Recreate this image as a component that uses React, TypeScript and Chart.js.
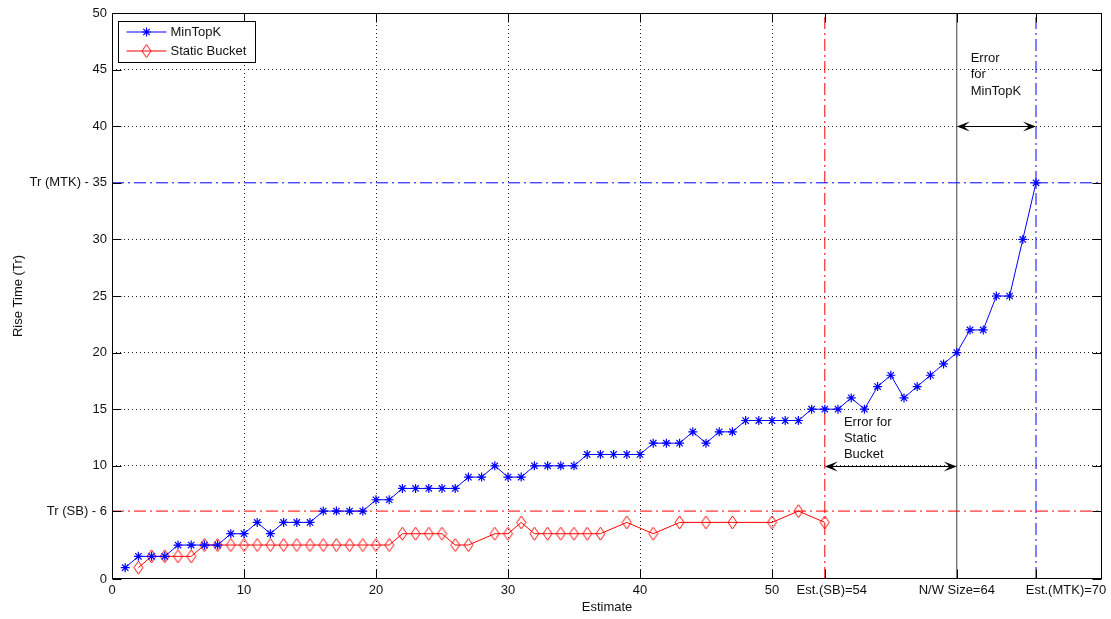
import React, { useEffect, useRef } from "react";
import { Chart, registerables } from "chart.js";

Chart.register(...registerables);

// MinTopK: rise time for every estimate 1..70
const mtkEstimate = [
  1, 2, 3, 4, 5, 6, 7, 8, 9, 10, 11, 12, 13, 14, 15, 16, 17, 18, 19, 20,
  21, 22, 23, 24, 25, 26, 27, 28, 29, 30, 31, 32, 33, 34, 35, 36, 37, 38, 39, 40,
  41, 42, 43, 44, 45, 46, 47, 48, 49, 50, 51, 52, 53, 54, 55, 56, 57, 58, 59, 60,
  61, 62, 63, 64, 65, 66, 67, 68, 69, 70,
];
const mtkRiseTime = [
  1, 2, 2, 2, 3, 3, 3, 3, 4, 4, 5, 4, 5, 5, 5, 6, 6, 6, 6, 7,
  7, 8, 8, 8, 8, 8, 9, 9, 10, 9, 9, 10, 10, 10, 10, 11, 11, 11, 11, 11,
  12, 12, 12, 13, 12, 13, 13, 14, 14, 14, 14, 14, 15, 15, 15, 16, 15, 17, 18, 16,
  17, 18, 19, 20, 22, 22, 25, 25, 30, 35,
];

// Static Bucket
const sbEstimate = [
  2, 3, 4, 5, 6, 7, 8, 9, 10, 11, 12, 13, 14, 15, 16, 17, 18, 19, 20, 21,
  22, 23, 24, 25, 26, 27, 29, 30, 31, 32, 33, 34, 35, 36, 37, 39, 41, 43, 45, 47,
  50, 52, 54,
];
const sbRiseTime = [
  1, 2, 2, 2, 2, 3, 3, 3, 3, 3, 3, 3, 3, 3, 3, 3, 3, 3, 3, 3,
  4, 4, 4, 4, 3, 3, 4, 4, 5, 4, 4, 4, 4, 4, 4, 5, 4, 5, 5, 5,
  5, 6, 5,
];

// Reference values
const estimateSB = 54;
const networkSize = 64;
const estimateMTK = 70;
const riseTimeSB = 6;
const riseTimeMTK = 35;

// Axis ticks
const xTickValues = [0, 10, 20, 30, 40, 50, 54, 64, 70];
const xTickLabels = ["0", "10", "20", "30", "40", "50", "Est.(SB)=54", "N/W Size=64", "Est.(MTK)=70"];
const yTickValues = [0, 6, 10, 15, 20, 25, 30, 35, 40, 45, 50];
const yTickLabels = ["0", "Tr (SB) - 6", "10", "15", "20", "25", "30", "Tr (MTK) - 35", "40", "45", "50"];

const seriesNames = ["MinTopK", "Static Bucket"];
const sbNote = ["Error for", "Static", "Bucket"];
const mtkNote = ["Error", "for", "MinTopK"];

// Styling
const FONT_FAMILY = '"Liberation Sans", Arial, Helvetica, sans-serif';
const FONT_SIZE = 13;
const FONT = `${FONT_SIZE}px ${FONT_FAMILY}`;
const TEXT_COLOR = "#111";
const BLUE = "#0000ff";
const RED = "#ff0000";
const DASH_DOT = [12, 4, 2, 4];
const TICK_LEN = 9;
const xLabelShift = [0, 0, 0, 0, 0, 0, 7, 0, 30];
// note anchors in data units (left edge, first line centre)
const sbNoteAt = { x: 55.45, y: 13.8 };
const mtkNoteAt = { x: 65.05, y: 46.0 };

function makeDiamond(color: string): HTMLCanvasElement {
  const c = document.createElement("canvas");
  c.width = 11;
  c.height = 15;
  const g = c.getContext("2d")!;
  g.strokeStyle = color;
  g.lineWidth = 1;
  g.beginPath();
  g.moveTo(5.5, 1);
  g.lineTo(10, 7.5);
  g.lineTo(5.5, 14);
  g.lineTo(1, 7.5);
  g.closePath();
  g.stroke();
  return c;
}

function drawStar(ctx: CanvasRenderingContext2D, cx: number, cy: number, r: number, color: string) {
  ctx.save();
  ctx.strokeStyle = color;
  ctx.lineWidth = 1.2;
  ctx.beginPath();
  ctx.moveTo(cx - r, cy);
  ctx.lineTo(cx + r, cy);
  ctx.moveTo(cx, cy - r);
  ctx.lineTo(cx, cy + r);
  const d = r * Math.SQRT1_2;
  ctx.moveTo(cx - d, cy - d);
  ctx.lineTo(cx + d, cy + d);
  ctx.moveTo(cx - d, cy + d);
  ctx.lineTo(cx + d, cy - d);
  ctx.stroke();
  ctx.restore();
}

function arrowHead(ctx: CanvasRenderingContext2D, tipX: number, y: number, dir: number) {
  const L = 13;
  const W = 5;
  ctx.beginPath();
  ctx.moveTo(tipX, y);
  ctx.lineTo(tipX + dir * L, y - W);
  ctx.lineTo(tipX + dir * L * 0.55, y);
  ctx.lineTo(tipX + dir * L, y + W);
  ctx.closePath();
  ctx.fill();
}

function doubleArrow(ctx: CanvasRenderingContext2D, x1: number, x2: number, y: number) {
  ctx.save();
  ctx.strokeStyle = "#000";
  ctx.fillStyle = "#000";
  ctx.lineWidth = 1;
  ctx.beginPath();
  ctx.moveTo(x1 + 4, y);
  ctx.lineTo(x2 - 4, y);
  ctx.stroke();
  arrowHead(ctx, x1, y, 1);
  arrowHead(ctx, x2, y, -1);
  ctx.restore();
}

export default function App() {
  const canvasRef = useRef<HTMLCanvasElement | null>(null);

  useEffect(() => {
    const canvas = canvasRef.current;
    if (!canvas) return;
    const diamond = makeDiamond(RED);

    const overlay = {
      id: "overlay",
      afterDatasetsDraw(chart: any) {
        const { ctx, chartArea: a } = chart;
        const xs = chart.scales.x;
        const ys = chart.scales.y;
        const L = Math.round(a.left) + 0.5;
        const R = Math.round(a.right) - 0.5;
        const T = Math.round(a.top) + 0.5;
        const B = Math.round(a.bottom) - 0.5;

        ctx.save();

        // error arrows
        const yArrowSB = Math.round(ys.getPixelForValue(10)) + 0.5;
        const yArrowMTK = Math.round(ys.getPixelForValue(40)) + 0.5;
        doubleArrow(ctx, xs.getPixelForValue(estimateSB), xs.getPixelForValue(networkSize), yArrowSB);
        doubleArrow(ctx, xs.getPixelForValue(networkSize), xs.getPixelForValue(estimateMTK), yArrowMTK);

        // notes
        ctx.fillStyle = TEXT_COLOR;
        ctx.font = FONT;
        ctx.textAlign = "left";
        ctx.textBaseline = "middle";
        sbNote.forEach((t, i) => {
          ctx.fillText(t, xs.getPixelForValue(sbNoteAt.x), ys.getPixelForValue(sbNoteAt.y) + i * 15.7);
        });
        mtkNote.forEach((t, i) => {
          ctx.fillText(t, xs.getPixelForValue(mtkNoteAt.x), ys.getPixelForValue(mtkNoteAt.y) + i * 16.5);
        });

        // frame
        ctx.strokeStyle = "#000";
        ctx.lineWidth = 1;
        ctx.strokeRect(L, T, R - L, B - T);

        // inward tick marks on all four sides
        ctx.beginPath();
        xTickValues.forEach((v) => {
          const px = Math.round(xs.getPixelForValue(v)) + 0.5;
          ctx.moveTo(px, B);
          ctx.lineTo(px, B - TICK_LEN);
          ctx.moveTo(px, T);
          ctx.lineTo(px, T + TICK_LEN);
        });
        yTickValues.forEach((v) => {
          const py = Math.round(ys.getPixelForValue(v)) + 0.5;
          ctx.moveTo(L, py);
          ctx.lineTo(L + TICK_LEN, py);
          ctx.moveTo(R, py);
          ctx.lineTo(R - TICK_LEN, py);
        });
        ctx.stroke();

        // x tick labels
        ctx.fillStyle = TEXT_COLOR;
        ctx.textAlign = "center";
        ctx.textBaseline = "middle";
        xTickValues.forEach((v, i) => {
          ctx.fillText(xTickLabels[i], xs.getPixelForValue(v) + xLabelShift[i], a.bottom + 11);
        });

        // axis titles
        ctx.fillText("Estimate", (a.left + a.right) / 2, a.bottom + 28);
        ctx.save();
        ctx.translate(18, (a.top + a.bottom) / 2);
        ctx.rotate(-Math.PI / 2);
        ctx.fillText("Rise Time (Tr)", 0, 0);
        ctx.restore();

        // legend
        const lx = Math.round(a.left) + 6.5;
        const ly = Math.round(a.top) + 8.5;
        const lw = 137;
        const lh = 41;
        ctx.fillStyle = "#fff";
        ctx.fillRect(lx, ly, lw, lh);
        ctx.strokeStyle = "#000";
        ctx.strokeRect(lx, ly, lw, lh);
        const rows = [ly + 10.5, ly + 29.5];
        const colors = [BLUE, RED];
        rows.forEach((ry, i) => {
          ctx.strokeStyle = colors[i];
          ctx.lineWidth = 1;
          ctx.beginPath();
          ctx.moveTo(lx + 8, ry);
          ctx.lineTo(lx + 48, ry);
          ctx.stroke();
          if (i === 0) drawStar(ctx, lx + 28, ry, 4.5, BLUE);
          else ctx.drawImage(diamond, lx + 28 - 5.5, ry - 7.5);
          ctx.fillStyle = TEXT_COLOR;
          ctx.textAlign = "left";
          ctx.fillText(seriesNames[i], lx + 52, ry);
        });

        ctx.restore();
      },
    };

    const hiddenX = new Set([0, estimateSB, networkSize, estimateMTK]);
    const hiddenY = new Set([0, riseTimeSB, riseTimeMTK, 50]);
    const refLine = (pts: { x: number; y: number }[], color: string, dash: number[]) => ({
      data: pts,
      borderColor: color,
      borderWidth: 1,
      borderDash: dash,
      pointRadius: 0,
      fill: false,
      tension: 0,
    });

    const chart = new Chart(canvas, {
      type: "line",
      data: {
        datasets: [
          {
            label: seriesNames[0],
            data: mtkEstimate.map((x, i) => ({ x, y: mtkRiseTime[i] })),
            borderColor: BLUE,
            borderWidth: 1,
            pointStyle: "star",
            pointRadius: 4.5,
            pointBorderColor: BLUE,
            pointBorderWidth: 1.2,
            pointBackgroundColor: BLUE,
            tension: 0,
            fill: false,
          },
          {
            label: seriesNames[1],
            data: sbEstimate.map((x, i) => ({ x, y: sbRiseTime[i] })),
            borderColor: RED,
            borderWidth: 1,
            pointStyle: diamond as any,
            pointRadius: 5,
            tension: 0,
            fill: false,
          },
          refLine([{ x: 0, y: riseTimeMTK }, { x: 75, y: riseTimeMTK }], BLUE, DASH_DOT),
          refLine([{ x: 0, y: riseTimeSB }, { x: 75, y: riseTimeSB }], RED, DASH_DOT),
          refLine([{ x: estimateSB, y: 0 }, { x: estimateSB, y: 50 }], RED, DASH_DOT),
          refLine([{ x: networkSize, y: 0 }, { x: networkSize, y: 50 }], "#404040", []),
          refLine([{ x: estimateMTK, y: 0 }, { x: estimateMTK, y: 50 }], BLUE, DASH_DOT),
        ],
      },
      options: {
        responsive: false,
        animation: false,
        devicePixelRatio: 1,
        layout: { padding: { left: 0, top: 13, right: 9, bottom: 0 } },
        plugins: {
          legend: { display: false },
          tooltip: { enabled: false },
        },
        scales: {
          x: {
            type: "linear",
            min: 0,
            max: 75,
            afterBuildTicks: (scale: any) => {
              scale.ticks = xTickValues.map((value) => ({ value }));
            },
            afterFit: (scale: any) => {
              scale.height = 40;
            },
            ticks: { display: false, autoSkip: false, maxRotation: 0 },
            grid: {
              drawTicks: false,
              lineWidth: 1,
              color: (c: any) => (hiddenX.has(c.tick?.value) ? "rgba(0,0,0,0)" : "#222"),
            },
            border: { display: false, dash: [1, 3] },
          },
          y: {
            type: "linear",
            min: 0,
            max: 50,
            afterBuildTicks: (scale: any) => {
              scale.ticks = yTickValues.map((value) => ({ value }));
            },
            afterFit: (scale: any) => {
              scale.width = 112;
            },
            ticks: {
              autoSkip: false,
              padding: 5,
              color: TEXT_COLOR,
              font: { family: FONT_FAMILY, size: FONT_SIZE },
              callback: (_v: any, i: number) => yTickLabels[i],
            },
            grid: {
              drawTicks: false,
              lineWidth: 1,
              color: (c: any) => (hiddenY.has(c.tick?.value) ? "rgba(0,0,0,0)" : "#222"),
            },
            border: { display: false, dash: [1, 3] },
          },
        },
      },
      plugins: [overlay],
    } as any);

    return () => chart.destroy();
  }, []);

  return (
    <div style={{ position: "fixed", left: 0, top: 0, width: 1111, height: 619, background: "#fff" }}>
      <canvas ref={canvasRef} width={1111} height={619} style={{ display: "block" }} />
    </div>
  );
}
